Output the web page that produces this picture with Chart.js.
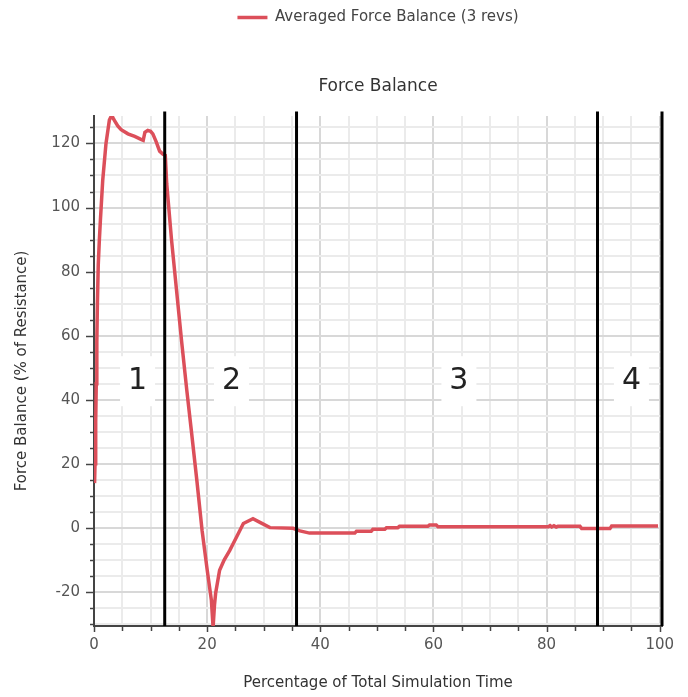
<!DOCTYPE html>
<html>
<head>
<meta charset="utf-8">
<script src="https://cdn.jsdelivr.net/npm/chart.js@4/dist/chart.umd.min.js"></script>
<style>
  html, body { margin: 0; padding: 0; background: #ffffff; }
  #wrap { width: 688px; height: 697px; }
</style>
</head>
<body>
<div id="wrap"><canvas id="c" width="688" height="697"></canvas></div>
<script>
// ---- data ----
const timePct = [0.1, 0.18, 0.3, 0.4, 0.5, 0.6, 0.75, 0.95, 1.13, 1.54, 2.12, 2.72, 3.13, 3.5, 4.2, 4.8, 6.0, 7.2, 8.3, 8.7, 9.0, 9.5, 10.0, 10.4, 11.0, 11.6, 12.2, 12.6,
  12.85, 13.7, 14.6, 15.5, 16.4, 17.2, 18.2, 19.1, 20.0, 20.75, 21.05, 21.3, 21.5, 22.2, 23.0, 24.0, 25.2, 26.4, 28.1, 29.5, 31.1, 35.2, 36.4, 38.1,
  46.1, 46.4, 49.0, 49.3, 51.4, 51.7, 53.7, 54.0, 59.0, 59.3, 60.5, 60.8, 80.3, 80.6, 80.9, 81.3, 81.7, 82.0, 85.9, 86.2, 91.2, 91.5, 99.7];
const forceBalance = [14, 20, 33, 45, 58, 70, 82, 90, 96, 108.5, 120, 127.3, 128.8, 127.5, 125.5, 124.3, 123, 122.2, 121.3, 121.0, 123.5, 124.1, 123.8, 123.0, 120.5, 117.6, 116.6, 116.3,
  107.5, 90, 74, 58, 43, 30.5, 14.5, -0.7, -13, -22.6, -31, -24, -20.4, -13.2, -10, -7.0, -2.8, 1.4, 2.9, 1.6, 0.1, -0.1, -0.9, -1.6,
  -1.6, -1.0, -1.0, -0.4, -0.4, 0.1, 0.1, 0.5, 0.5, 0.9, 0.9, 0.4, 0.4, 0.7, 0.3, 0.7, 0.3, 0.5, 0.5, -0.2, -0.2, 0.6, 0.6];
const seriesLabel = 'Averaged Force Balance (3 revs)';
const dividers = [12.5, 35.8, 89, 100.4];
const regionLabels = ['1', '2', '3', '4'];
const regionLabelX = [7.7, 24.3, 64.5, 95.0];
const regionLabelY = [45.8, 45.8, 45.8, 45.8];
const xTickValues = [0,5,10,15,20,25,30,35,40,45,50,55,60,65,70,75,80,85,90,95,100];
const yTickValues = [-30,-25,-20,-15,-10,-5,0,5,10,15,20,25,30,35,40,45,50,55,60,65,70,75,80,85,90,95,100,105,110,115,120,125];
const xRange = [0, 100.4];
const yRange = [-30.6, 128.6];

const FONT = '"DejaVu Sans", Verdana, sans-serif';
const points = timePct.map((x, i) => ({ x: x, y: forceBalance[i] }));

const dividerPlugin = {
  id: 'dividers',
  beforeDatasetsDraw(chart) {
    const { ctx, scales: { x, y } } = chart;
    ctx.save();
    regionLabels.forEach((t, i) => {
      const px = x.getPixelForValue(regionLabelX[i]);
      const py = y.getPixelForValue(regionLabelY[i]);
      ctx.fillStyle = '#ffffff';
      ctx.fillRect(px - 17.5, py - 25, 35, 50);
      ctx.fillStyle = '#222222';
      ctx.font = '30px ' + FONT;
      ctx.textAlign = 'center';
      ctx.textBaseline = 'middle';
      ctx.fillText(t, px, py);
    });
    ctx.restore();
  },
  afterDatasetsDraw(chart) {
    const { ctx, scales: { x, y } } = chart;
    ctx.save();
    ctx.strokeStyle = '#000000';
    ctx.lineWidth = 3;
    dividers.forEach(d => {
      const px = x.getPixelForValue(d);
      ctx.beginPath();
      ctx.moveTo(px, y.getPixelForValue(130));
      ctx.lineTo(px, y.getPixelForValue(yRange[0]));
      ctx.stroke();
    });
    ctx.restore();
  },
  afterDraw(chart) {
    const { ctx, scales: { x, y }, chartArea } = chart;
    ctx.save();
    ctx.strokeStyle = '#444444';
    ctx.lineWidth = 1.5;
    yTickValues.forEach(v => {
      const py = Math.round(y.getPixelForValue(v)) + 0.5;
      const len = (v % 20 === 0) ? 8 : 4;
      ctx.beginPath();
      ctx.moveTo(chartArea.left - len, py);
      ctx.lineTo(chartArea.left, py);
      ctx.stroke();
    });
    xTickValues.forEach(v => {
      const px = Math.round(x.getPixelForValue(v)) + 0.5;
      const len = (v % 20 === 0) ? 6 : 5;
      ctx.beginPath();
      ctx.moveTo(px, chartArea.bottom);
      ctx.lineTo(px, chartArea.bottom + len);
      ctx.stroke();
    });
    ctx.restore();
  }
};

new Chart(document.getElementById('c'), {
  type: 'line',
  data: {
    datasets: [{
      label: seriesLabel,
      data: points,
      borderColor: '#dc4f5a',
      backgroundColor: '#dc4f5a',
      borderWidth: 3.5,
      pointRadius: 0,
      pointStyle: 'line',
      tension: 0,
      fill: false
    }]
  },
  options: {
    responsive: false,
    animation: false,
    devicePixelRatio: 1,
    layout: { padding: { left: 0, right: 26, top: 0, bottom: 0 } },
    plugins: {
      legend: {
        display: true,
        position: 'top',
        fullSize: false,
        weight: 3000,
        labels: {
          usePointStyle: true,
          pointStyle: 'line',
          pointStyleWidth: 30,
          padding: 10,
          color: '#444444',
          font: { family: FONT, size: 15 }
        }
      },
      title: {
        display: true,
        fullSize: false,
        text: 'Force Balance',
        color: '#333333',
        font: { family: FONT, size: 17, weight: 'normal' },
        padding: { top: 41, bottom: 19.5 }
      },
      tooltip: { enabled: false }
    },
    scales: {
      x: {
        type: 'linear',
        min: xRange[0],
        max: xRange[1],
        afterBuildTicks: s => { s.ticks = xTickValues.map(v => ({ value: v })); },
        afterFit: s => { s.height = 71; },
        ticks: {
          autoSkip: false,
          maxRotation: 0,
          padding: 4,
          color: '#555555',
          font: { family: FONT, size: 15 },
          callback: v => (v % 20 === 0 ? String(v) : '')
        },
        grid: {
          drawTicks: true,
          tickLength: 6,
          tickColor: 'rgba(0,0,0,0)',
          lineWidth: 2,
          color: ctx => (ctx.tick && ctx.tick.value % 20 === 0) ? '#d8d8d8' : '#ebebeb'
        },
        border: { display: true, color: '#444444', width: 2 },
        title: {
          display: true,
          text: 'Percentage of Total Simulation Time',
          color: '#333333',
          font: { family: FONT, size: 15 },
          padding: { top: 0, bottom: 5 }
        }
      },
      y: {
        type: 'linear',
        min: yRange[0],
        max: yRange[1],
        afterBuildTicks: s => { s.ticks = yTickValues.map(v => ({ value: v })); },
        afterFit: s => { s.width = 94; },
        ticks: {
          autoSkip: false,
          padding: 6,
          color: '#555555',
          font: { family: FONT, size: 15 },
          callback: v => (v % 20 === 0 ? String(v) : '')
        },
        grid: {
          drawTicks: true,
          tickLength: 8,
          tickColor: 'rgba(0,0,0,0)',
          lineWidth: 2,
          color: ctx => (ctx.tick && ctx.tick.value % 20 === 0) ? '#d8d8d8' : '#ebebeb'
        },
        border: { display: true, color: '#444444', width: 2 },
        title: {
          display: true,
          text: 'Force Balance (% of Resistance)',
          color: '#333333',
          font: { family: FONT, size: 15 },
          padding: { top: 13, bottom: 0 }
        }
      }
    }
  },
  plugins: [dividerPlugin]
});
</script>
</body>
</html>
